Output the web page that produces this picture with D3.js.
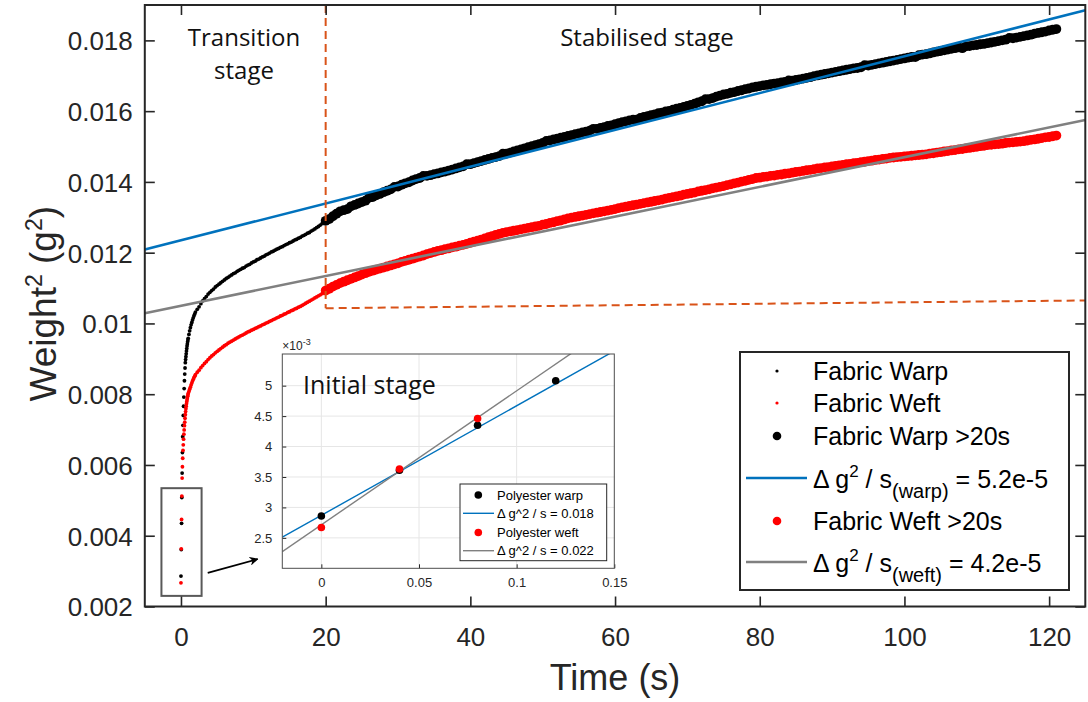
<!DOCTYPE html>
<html>
<head>
<meta charset="utf-8">
<script src="https://cdn.jsdelivr.net/npm/d3@7"></script>
<style>
  body { margin: 0; background: #fff; }
  svg { display: block; font-family: "Liberation Sans", Arial, Helvetica, sans-serif; }
</style>
</head>
<body>
<svg id="chart" width="1088" height="702"></svg>
<script>
// ---------------------------------------------------------------------------
// Data (weights squared, stored in units of 1e-3 g^2)
// ---------------------------------------------------------------------------

// Sampling instants of the transition stage (s): 25 Hz at start, then coarser
const transitionTimes = [
  ...d3.range(0, 1.001, 0.04),
  ...d3.range(1.1, 2.001, 0.1),
  ...d3.range(2.25, 19.751, 0.25)
];

const warpTransition = [
  2.86, 3.61, 4.35, 5.08, 5.77, 6.35, 6.80, 7.12, 7.40, 7.66, 7.92, 8.16, 8.38,
  8.57, 8.74, 8.89, 8.98, 9.06, 9.14, 9.22, 9.29, 9.36, 9.42, 9.48, 9.53, 9.58,
  9.69, 9.79, 9.88, 9.96, 10.03, 10.10, 10.16, 10.22, 10.27, 10.32,
  10.40, 10.47, 10.56, 10.64, 10.70, 10.76, 10.83, 10.88, 10.93, 10.97, 11.03, 11.07,
  11.11, 11.15, 11.19, 11.23, 11.27, 11.30, 11.34, 11.37, 11.41, 11.43, 11.47, 11.50,
  11.53, 11.56, 11.58, 11.62, 11.65, 11.67, 11.71, 11.74, 11.76, 11.80, 11.82, 11.85,
  11.88, 11.90, 11.94, 11.96, 11.99, 12.02, 12.04, 12.07, 12.10, 12.12, 12.15, 12.17,
  12.20, 12.23, 12.25, 12.28, 12.30, 12.33, 12.36, 12.38, 12.41, 12.43, 12.47, 12.49,
  12.52, 12.55, 12.57, 12.61, 12.64, 12.67, 12.71, 12.74, 12.78, 12.82, 12.87
];

const weftTransition = [
  2.67, 3.63, 4.46, 5.12, 5.63, 5.95, 6.19, 6.41, 6.57, 6.73, 6.87, 6.99, 7.11,
  7.21, 7.32, 7.42, 7.51, 7.59, 7.66, 7.73, 7.79, 7.84, 7.89, 7.94, 7.98, 8.02,
  8.08, 8.14, 8.20, 8.26, 8.32, 8.37, 8.42, 8.47, 8.51, 8.55,
  8.62, 8.68, 8.75, 8.81, 8.87, 8.92, 8.98, 9.03, 9.08, 9.12, 9.17, 9.21,
  9.25, 9.29, 9.33, 9.37, 9.40, 9.44, 9.47, 9.50, 9.53, 9.56, 9.59, 9.62,
  9.65, 9.67, 9.70, 9.73, 9.76, 9.78, 9.81, 9.83, 9.86, 9.88, 9.91, 9.93,
  9.96, 9.98, 10.01, 10.03, 10.06, 10.08, 10.11, 10.13, 10.16, 10.18, 10.21, 10.23,
  10.26, 10.28, 10.31, 10.33, 10.36, 10.38, 10.41, 10.43, 10.46, 10.48, 10.51, 10.54,
  10.57, 10.60, 10.63, 10.66, 10.69, 10.72, 10.75, 10.78, 10.81, 10.84, 10.88
];

// Stabilised stage, sampled every 0.5 s from 20 s to 121 s
const stableTimes = d3.range(20, 121.001, 0.5);

const warpStable = [
  12.90, 12.95, 13.03, 13.10, 13.17, 13.20, 13.23, 13.31, 13.35, 13.39,
  13.43, 13.47, 13.55, 13.57, 13.62, 13.66, 13.71, 13.75, 13.79, 13.86,
  13.87, 13.92, 13.96, 13.99, 14.04, 14.08, 14.11, 14.17, 14.17, 14.19,
  14.22, 14.24, 14.27, 14.29, 14.32, 14.35, 14.38, 14.41, 14.44, 14.50,
  14.50, 14.53, 14.56, 14.59, 14.62, 14.65, 14.68, 14.70, 14.73, 14.80,
  14.80, 14.83, 14.86, 14.89, 14.92, 14.95, 14.98, 15.01, 15.04, 15.07,
  15.10, 15.16, 15.17, 15.20, 15.22, 15.25, 15.27, 15.30, 15.32, 15.35,
  15.37, 15.40, 15.42, 15.45, 15.50, 15.50, 15.53, 15.55, 15.58, 15.60,
  15.63, 15.66, 15.69, 15.71, 15.74, 15.76, 15.76, 15.81, 15.84, 15.86,
  15.89, 15.91, 15.94, 15.96, 15.99, 16.01, 16.04, 16.07, 16.09, 16.12,
  16.15, 16.18, 16.21, 16.25, 16.28, 16.34, 16.34, 16.37, 16.41, 16.44,
  16.47, 16.49, 16.52, 16.54, 16.57, 16.59, 16.62, 16.64, 16.67, 16.69,
  16.71, 16.73, 16.74, 16.76, 16.78, 16.79, 16.81, 16.83, 16.87, 16.86,
  16.88, 16.90, 16.92, 16.94, 16.96, 16.99, 17.01, 17.03, 17.05, 17.07,
  17.09, 17.11, 17.13, 17.15, 17.17, 17.19, 17.21, 17.22, 17.24, 17.30,
  17.29, 17.31, 17.33, 17.35, 17.37, 17.39, 17.41, 17.43, 17.45, 17.47,
  17.49, 17.51, 17.53, 17.53, 17.58, 17.60, 17.61, 17.63, 17.66, 17.68,
  17.70, 17.72, 17.74, 17.76, 17.78, 17.80, 17.78, 17.83, 17.84, 17.86,
  17.87, 17.89, 17.90, 17.92, 17.94, 17.96, 17.98, 18.00, 18.02, 18.07,
  18.06, 18.08, 18.10, 18.12, 18.14, 18.16, 18.19, 18.21, 18.23, 18.25,
  18.28, 18.30, 18.32
];

const weftStable = [
  10.93, 10.98, 11.04, 11.09, 11.14, 11.18, 11.22, 11.26, 11.30, 11.34,
  11.38, 11.42, 11.46, 11.49, 11.52, 11.55, 11.58, 11.61, 11.64, 11.67,
  11.70, 11.74, 11.77, 11.80, 11.83, 11.86, 11.89, 11.92, 11.96, 11.99,
  12.02, 12.05, 12.07, 12.10, 12.12, 12.15, 12.17, 12.20, 12.22, 12.25,
  12.28, 12.31, 12.34, 12.37, 12.40, 12.44, 12.47, 12.50, 12.53, 12.56,
  12.58, 12.60, 12.62, 12.64, 12.66, 12.68, 12.70, 12.72, 12.74, 12.76,
  12.79, 12.81, 12.84, 12.86, 12.89, 12.91, 12.94, 12.97, 12.99, 13.01,
  13.03, 13.05, 13.07, 13.09, 13.11, 13.13, 13.15, 13.17, 13.19, 13.21,
  13.23, 13.26, 13.28, 13.30, 13.32, 13.34, 13.36, 13.38, 13.40, 13.42,
  13.44, 13.46, 13.48, 13.50, 13.53, 13.55, 13.57, 13.59, 13.61, 13.64,
  13.66, 13.68, 13.70, 13.73, 13.75, 13.77, 13.79, 13.82, 13.84, 13.86,
  13.88, 13.91, 13.93, 13.96, 13.98, 14.01, 14.03, 14.06, 14.08, 14.11,
  14.12, 14.14, 14.15, 14.17, 14.18, 14.20, 14.21, 14.23, 14.24, 14.26,
  14.28, 14.29, 14.31, 14.33, 14.34, 14.36, 14.38, 14.39, 14.41, 14.42,
  14.44, 14.45, 14.47, 14.48, 14.50, 14.51, 14.53, 14.54, 14.56, 14.57,
  14.59, 14.60, 14.62, 14.63, 14.65, 14.66, 14.68, 14.69, 14.70, 14.71,
  14.72, 14.73, 14.74, 14.75, 14.76, 14.77, 14.78, 14.80, 14.81, 14.83,
  14.84, 14.86, 14.87, 14.89, 14.90, 14.92, 14.93, 14.95, 14.96, 14.98,
  14.99, 15.01, 15.02, 15.04, 15.05, 15.06, 15.07, 15.08, 15.10, 15.11,
  15.12, 15.13, 15.14, 15.15, 15.17, 15.19, 15.20, 15.22, 15.24, 15.26,
  15.27, 15.29, 15.31
];

// Linear fits of the stabilised stage (g^2 vs s)
const warpFit = { slope: 5.2e-5, intercept: 0.01235 };
const weftFit = { slope: 4.2e-5, intercept: 0.0105 };

// Stage boundary (s) and the lower guide of the stabilised region (g^2)
const stageBoundary = 20;
const stableGuide = [[20, 0.01043], [125, 0.01065]];

// Axis ticks
const xTicks = [0, 20, 40, 60, 80, 100, 120];
const yTicks = [0.002, 0.004, 0.006, 0.008, 0.010, 0.012, 0.014, 0.016, 0.018];

// Initial stage (inset), values in units of 1e-3 g^2
const initialTimes = [0, 0.04, 0.08, 0.12];
const polyWarp = [2.86, 3.61, 4.35, 5.08];
const polyWeft = [2.67, 3.63, 4.46];
const polyWarpFit = { slope: 18, intercept: 2.87 };   // 0.018 g^2/s
const polyWeftFit = { slope: 22, intercept: 2.715 };  // 0.022 g^2/s
const insetXTicks = [0, 0.05, 0.1, 0.15];
const insetYTicks = [2.5, 3, 3.5, 4, 4.5, 5];

// ---------------------------------------------------------------------------
// Colours
// ---------------------------------------------------------------------------
const BLUE = "#0072BD", GREY = "#808080", ORANGE = "#D95319", AXIS = "#262626";

const svg = d3.select("#chart");
const defs = svg.append("defs");

// ---------------------------------------------------------------------------
// Main axes
// ---------------------------------------------------------------------------
const plot = { left: 144.8, right: 1085.3, top: 5, bottom: 606.5 };
const x = d3.scaleLinear().domain([-5, 125]).range([plot.left, plot.right]);
const y = d3.scaleLinear().domain([0.002, 0.019]).range([plot.bottom, plot.top]);

defs.append("clipPath").attr("id", "clip-main")
  .append("rect")
  .attr("x", plot.left).attr("y", plot.top)
  .attr("width", plot.right - plot.left).attr("height", plot.bottom - plot.top);

defs.append("marker")
  .attr("id", "arrow-head")
  .attr("viewBox", "0 0 10 10")
  .attr("refX", 9).attr("refY", 5)
  .attr("markerWidth", 9).attr("markerHeight", 9)
  .attr("markerUnits", "userSpaceOnUse")
  .attr("orient", "auto")
  .append("path").attr("d", "M0,0 L10,5 L0,10 L3,5 Z").attr("fill", "#000");

const zip = (times, vals, k) => vals.map((v, i) => ({ t: times[i], v: v * k }));

const gData = svg.append("g").attr("clip-path", "url(#clip-main)");

function dots(data, r, color) {
  gData.append("g").selectAll("circle").data(data).join("circle")
    .attr("cx", d => x(d.t)).attr("cy", d => y(d.v))
    .attr("r", r).attr("fill", color);
}
function fitLine(fit, color) {
  const ends = x.domain().map(t => ({ t, v: fit.intercept + fit.slope * t }));
  gData.append("path")
    .attr("d", d3.line().x(d => x(d.t)).y(d => y(d.v))(ends))
    .attr("fill", "none").attr("stroke", color).attr("stroke-width", 2.6);
}

dots(zip(transitionTimes, warpTransition, 1e-3), 1.9, "#000");
dots(zip(transitionTimes, weftTransition, 1e-3), 1.9, "#ff0000");
dots(zip(stableTimes, warpStable, 1e-3), 4.9, "#000");
fitLine(warpFit, BLUE);
dots(zip(stableTimes, weftStable, 1e-3), 4.9, "#ff0000");
fitLine(weftFit, GREY);

// Stage separation guides
gData.append("line")
  .attr("x1", x(stageBoundary)).attr("x2", x(stageBoundary))
  .attr("y1", y(0.019)).attr("y2", y(stableGuide[0][1]))
  .attr("stroke", ORANGE).attr("stroke-width", 2).attr("stroke-dasharray", "8,5");
gData.append("line")
  .attr("x1", x(stableGuide[0][0])).attr("y1", y(stableGuide[0][1]))
  .attr("x2", x(stableGuide[1][0])).attr("y2", y(stableGuide[1][1]))
  .attr("stroke", ORANGE).attr("stroke-width", 2).attr("stroke-dasharray", "8,5");

// Frame around the first samples and arrow towards the inset
svg.append("rect")
  .attr("x", x(-2.7)).attr("y", y(0.005344))
  .attr("width", x(2.85) - x(-2.7)).attr("height", y(0.0023) - y(0.005344))
  .attr("fill", "none").attr("stroke", "#595959").attr("stroke-width", 2);
svg.append("line")
  .attr("x1", x(3.7)).attr("y1", y(0.00295))
  .attr("x2", x(10.6)).attr("y2", y(0.00334))
  .attr("stroke", "#000").attr("stroke-width", 1.6)
  .attr("marker-end", "url(#arrow-head)");

// Axes with inward ticks on all four sides
const tickFont = 26;
const gx = svg.append("g").attr("transform", `translate(0,${plot.bottom})`)
  .call(d3.axisBottom(x).tickValues(xTicks).tickSizeInner(-10).tickSizeOuter(0)
    .tickPadding(21).tickFormat(d3.format("d")));
const gxt = svg.append("g").attr("transform", `translate(0,${plot.top})`)
  .call(d3.axisTop(x).tickValues(xTicks).tickSizeInner(-10).tickSizeOuter(0).tickFormat(""));
const gy = svg.append("g").attr("transform", `translate(${plot.left},0)`)
  .call(d3.axisLeft(y).tickValues(yTicks).tickSizeInner(-10).tickSizeOuter(0)
    .tickPadding(12).tickFormat(d => String(+d.toFixed(3))));
const gyr = svg.append("g").attr("transform", `translate(${plot.right},0)`)
  .call(d3.axisRight(y).tickValues(yTicks).tickSizeInner(-10).tickSizeOuter(0).tickFormat(""));

[gx, gxt, gy, gyr].forEach(g => {
  g.select(".domain").remove();
  g.selectAll(".tick line").attr("stroke", AXIS).attr("stroke-width", 1.6);
  g.selectAll(".tick text").attr("fill", AXIS).attr("font-size", tickFont)
    .attr("font-family", "'Liberation Sans', Arial, sans-serif");
});
gy.selectAll(".tick text").attr("dy", "0.36em");

// Plot frame
svg.append("rect")
  .attr("x", plot.left).attr("y", plot.top)
  .attr("width", plot.right - plot.left).attr("height", plot.bottom - plot.top)
  .attr("fill", "none").attr("stroke", AXIS).attr("stroke-width", 2);

// Axis titles
svg.append("text")
  .attr("x", (plot.left + plot.right) / 2).attr("y", 690)
  .attr("text-anchor", "middle").attr("font-size", 36).attr("fill", AXIS)
  .text("Time (s)");

const yTitle = svg.append("text")
  .attr("transform", `translate(56,${(plot.top + plot.bottom) / 2 - 2}) rotate(-90)`)
  .attr("text-anchor", "middle").attr("font-size", 37).attr("fill", AXIS);
yTitle.append("tspan").text("Weight");
yTitle.append("tspan").attr("font-size", 23).attr("dy", -14).text("2");
yTitle.append("tspan").attr("dy", 14).text(" (g");
yTitle.append("tspan").attr("font-size", 23).attr("dy", -14).text("2");
yTitle.append("tspan").attr("dy", 14).text(")");

// Stage names
const stageFont = "'Open Sans', 'Noto Sans', sans-serif";
const stageText = (tx, ty, s, size) => svg.append("text")
  .attr("x", tx).attr("y", ty).attr("text-anchor", "middle")
  .attr("font-family", stageFont).attr("font-size", size).attr("fill", "#111").text(s);
stageText(244, 46, "Transition", 24);
stageText(244, 79, "stage", 24);
stageText(647, 46, "Stabilised stage", 24);

// ---------------------------------------------------------------------------
// Legend
// ---------------------------------------------------------------------------
const lg = { left: 740, right: 1069, top: 352, bottom: 590 };
svg.append("rect")
  .attr("x", lg.left).attr("y", lg.top)
  .attr("width", lg.right - lg.left).attr("height", lg.bottom - lg.top)
  .attr("fill", "#fff").attr("stroke", AXIS).attr("stroke-width", 2);

const legendRows = [
  { y: 371, kind: "dot", r: 1.6, color: "#000", label: "Fabric Warp" },
  { y: 403, kind: "dot", r: 1.6, color: "#ff0000", label: "Fabric Weft" },
  { y: 436, kind: "dot", r: 4.3, color: "#000", label: "Fabric Warp >20s" },
  { y: 478, kind: "line", color: BLUE, sub: "(warp)", value: "5.2e-5" },
  { y: 521, kind: "dot", r: 4.3, color: "#ff0000", label: "Fabric Weft >20s" },
  { y: 562, kind: "line", color: GREY, sub: "(weft)", value: "4.2e-5" }
];
const legendFont = 25;
legendRows.forEach(row => {
  if (row.kind === "dot") {
    svg.append("circle").attr("cx", 777).attr("cy", row.y).attr("r", row.r).attr("fill", row.color);
    svg.append("text").attr("x", 813).attr("y", row.y + 9).attr("font-size", legendFont)
      .attr("fill", "#000").text(row.label);
  } else {
    svg.append("line").attr("x1", 746).attr("x2", 807).attr("y1", row.y).attr("y2", row.y)
      .attr("stroke", row.color).attr("stroke-width", 2.6);
    const t = svg.append("text").attr("x", 813).attr("y", row.y + 10)
      .attr("font-size", legendFont).attr("fill", "#000");
    t.append("tspan").text("\u0394 g");
    t.append("tspan").attr("font-size", 17).attr("dy", -11).text("2");
    t.append("tspan").attr("dy", 11).text(" / s");
    t.append("tspan").attr("font-size", 20).attr("dy", 10).text(row.sub);
    t.append("tspan").attr("dy", -10).text(" = " + row.value);
  }
});

// ---------------------------------------------------------------------------
// Inset: initial stage
// ---------------------------------------------------------------------------
const inset = { left: 282.3, right: 614.3, top: 354, bottom: 568.3 };
const ix = d3.scaleLinear().domain([-0.02, 0.15]).range([inset.left, inset.right]);
const iy = d3.scaleLinear().domain([2.0, 5.52]).range([inset.bottom, inset.top]);
const gi = svg.append("g");

defs.append("clipPath").attr("id", "clip-inset")
  .append("rect")
  .attr("x", inset.left).attr("y", inset.top)
  .attr("width", inset.right - inset.left).attr("height", inset.bottom - inset.top);

gi.append("rect")
  .attr("x", inset.left).attr("y", inset.top)
  .attr("width", inset.right - inset.left).attr("height", inset.bottom - inset.top)
  .attr("fill", "#fff");

// grid
gi.append("g").selectAll("line").data(insetXTicks.slice(0, -1)).join("line")
  .attr("x1", d => ix(d)).attr("x2", d => ix(d))
  .attr("y1", inset.top).attr("y2", inset.bottom)
  .attr("stroke", "#e6e6e6").attr("stroke-width", 1);
gi.append("g").selectAll("line").data(insetYTicks).join("line")
  .attr("x1", inset.left).attr("x2", inset.right)
  .attr("y1", d => iy(d)).attr("y2", d => iy(d))
  .attr("stroke", "#e6e6e6").attr("stroke-width", 1);

const gic = gi.append("g").attr("clip-path", "url(#clip-inset)");
function insetFit(fit, color) {
  const ends = ix.domain().map(t => ({ t, v: fit.intercept + fit.slope * t }));
  gic.append("path")
    .attr("d", d3.line().x(d => ix(d.t)).y(d => iy(d.v))(ends))
    .attr("fill", "none").attr("stroke", color).attr("stroke-width", 1.4);
}
insetFit(polyWarpFit, BLUE);
insetFit(polyWeftFit, GREY);

gic.append("g").selectAll("circle").data(zip(initialTimes, polyWarp, 1)).join("circle")
  .attr("cx", d => ix(d.t)).attr("cy", d => iy(d.v)).attr("r", 3.8).attr("fill", "#000");
gic.append("g").selectAll("circle").data(zip(initialTimes, polyWeft, 1)).join("circle")
  .attr("cx", d => ix(d.t)).attr("cy", d => iy(d.v)).attr("r", 3.8).attr("fill", "#ff0000");

// inset axes
const insetFont = 13;
const gix = gi.append("g").attr("transform", `translate(0,${inset.bottom})`)
  .call(d3.axisBottom(ix).tickValues(insetXTicks).tickSizeInner(-4).tickSizeOuter(0)
    .tickPadding(9).tickFormat(d => String(d)));
const giy = gi.append("g").attr("transform", `translate(${inset.left},0)`)
  .call(d3.axisLeft(iy).tickValues(insetYTicks).tickSizeInner(-4).tickSizeOuter(0)
    .tickPadding(10).tickFormat(d => String(d)));
[gix, giy].forEach(g => {
  g.select(".domain").remove();
  g.selectAll(".tick line").attr("stroke", AXIS).attr("stroke-width", 1);
  g.selectAll(".tick text").attr("fill", AXIS).attr("font-size", insetFont);
});
gi.append("rect")
  .attr("x", inset.left).attr("y", inset.top)
  .attr("width", inset.right - inset.left).attr("height", inset.bottom - inset.top)
  .attr("fill", "none").attr("stroke", "#4d4d4d").attr("stroke-width", 1);

// exponent label
const expo = gi.append("text").attr("x", inset.left).attr("y", 350)
  .attr("font-size", 12).attr("fill", AXIS);
expo.append("tspan").text("\u00d710");
expo.append("tspan").attr("font-size", 9).attr("dy", -5).text("-3");

gi.append("text").attr("x", 303).attr("y", 394)
  .attr("font-family", stageFont).attr("font-size", 25).attr("fill", "#111")
  .text("Initial stage");

// inset legend
const il = { left: 460, right: 606.7, top: 484, bottom: 560.7 };
gi.append("rect")
  .attr("x", il.left).attr("y", il.top)
  .attr("width", il.right - il.left).attr("height", il.bottom - il.top)
  .attr("fill", "#fff").attr("stroke", AXIS).attr("stroke-width", 1);
const insetLegend = [
  { y: 495, kind: "dot", color: "#000", label: "Polyester warp" },
  { y: 513.3, kind: "line", color: BLUE, label: "\u0394 g^2 / s = 0.018" },
  { y: 532.5, kind: "dot", color: "#ff0000", label: "Polyester weft" },
  { y: 550.7, kind: "line", color: GREY, label: "\u0394 g^2 / s = 0.022" }
];
insetLegend.forEach(row => {
  if (row.kind === "dot") {
    gi.append("circle").attr("cx", 478.3).attr("cy", row.y).attr("r", 3.8).attr("fill", row.color);
  } else {
    gi.append("line").attr("x1", 463).attr("x2", 494).attr("y1", row.y).attr("y2", row.y)
      .attr("stroke", row.color).attr("stroke-width", 1.4);
  }
  gi.append("text").attr("x", 497).attr("y", row.y + 4.6)
    .attr("font-size", insetFont).attr("fill", "#000").text(row.label);
});
</script>
</body>
</html>
